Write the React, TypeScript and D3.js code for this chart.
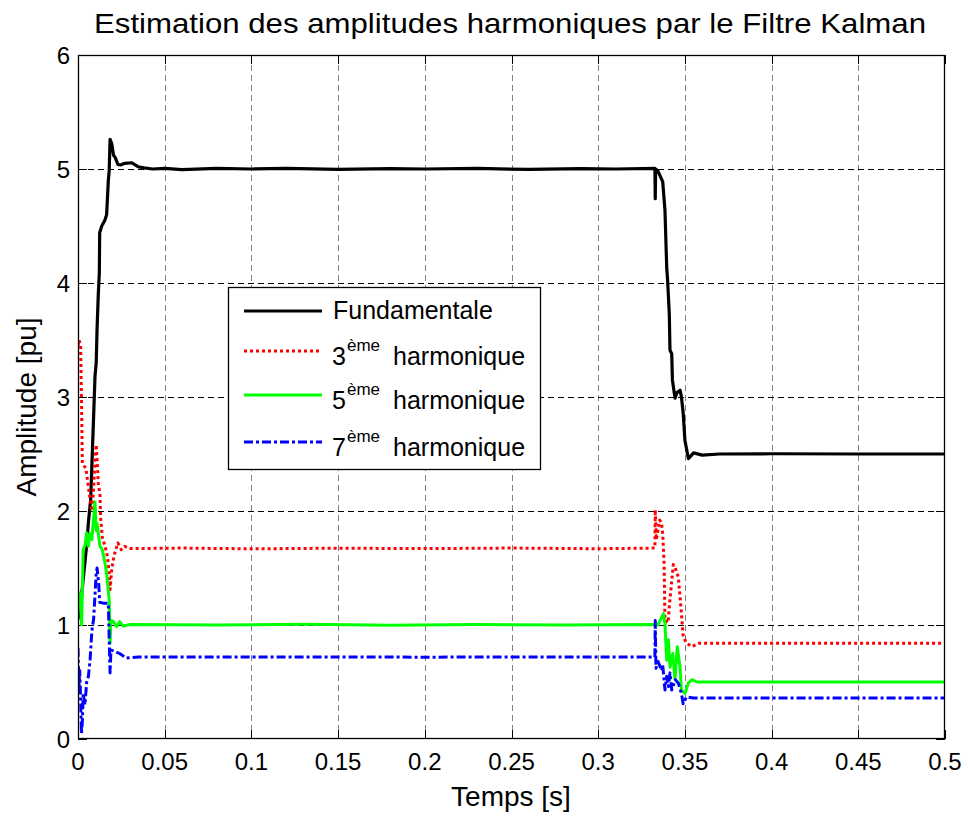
import React from "react";
import * as d3 from "d3";

type P = [number, number];

const xTicks = [0, 0.05, 0.1, 0.15, 0.2, 0.25, 0.3, 0.35, 0.4, 0.45, 0.5];
const xTickLabels = ["0", "0.05", "0.1", "0.15", "0.2", "0.25", "0.3", "0.35", "0.4", "0.45", "0.5"];
const yTicks = [0, 1, 2, 3, 4, 5, 6];
const yTickLabels = ["0", "1", "2", "3", "4", "5", "6"];

const fundamental: P[] = [
  [0, 1.05], [0.001, 1.2], [0.002, 1.25], [0.003, 1.4], [0.004, 1.55], [0.005, 1.7], [0.006, 1.9],
  [0.0073, 2.1], [0.0088, 2.74], [0.0098, 3.18], [0.0105, 3.3], [0.011, 3.6], [0.0117, 3.9],
  [0.0123, 4.09], [0.0125, 4.44], [0.0137, 4.5], [0.0155, 4.55], [0.0165, 4.6], [0.0175, 4.9],
  [0.018, 4.99], [0.0185, 5.26], [0.0195, 5.22], [0.0205, 5.12], [0.0215, 5.1], [0.023, 5.04],
  [0.0245, 5.035], [0.027, 5.05], [0.031, 5.055], [0.0346, 5.02], [0.038, 5.01], [0.043, 5.0],
  [0.05, 5.005], [0.06, 4.995], [0.08, 5.005], [0.1, 5.0], [0.12, 5.006], [0.15, 4.997],
  [0.18, 5.004], [0.2, 5.0], [0.23, 5.005], [0.26, 4.996], [0.29, 5.004], [0.31, 5.0],
  [0.3327, 5.005], [0.3329, 4.74], [0.3331, 5.0], [0.3345, 4.98], [0.3372, 4.89], [0.3385, 4.64],
  [0.3395, 4.14], [0.34, 4.03], [0.341, 3.73], [0.3414, 3.41], [0.3424, 3.38], [0.3428, 3.15],
  [0.3443, 2.99], [0.3455, 3.04], [0.3472, 3.06], [0.348, 3.0], [0.349, 2.86], [0.35, 2.62],
  [0.352, 2.46], [0.355, 2.51], [0.36, 2.49], [0.37, 2.5], [0.4, 2.502], [0.45, 2.5], [0.5, 2.5],
];

const third: P[] = [
  [0, 3.45], [0.0006, 3.5], [0.0015, 3.45], [0.002, 3.0], [0.0025, 2.42], [0.0046, 2.37],
  [0.006, 2.21], [0.007, 2.1], [0.008, 2.0], [0.009, 2.2], [0.0098, 2.45], [0.0105, 2.58],
  [0.0112, 2.4], [0.0117, 2.24], [0.0127, 2.14], [0.013, 1.95], [0.014, 1.77], [0.0156, 1.69],
  [0.017, 1.6], [0.018, 1.45], [0.0185, 1.31], [0.0195, 1.5], [0.021, 1.62], [0.023, 1.72],
  [0.025, 1.66], [0.027, 1.69], [0.03, 1.67], [0.06, 1.675], [0.1, 1.668], [0.15, 1.674],
  [0.2, 1.67], [0.25, 1.675], [0.3, 1.669], [0.3327, 1.675], [0.3329, 2.01], [0.3335, 1.75],
  [0.3355, 1.92], [0.3366, 1.89], [0.3372, 1.8], [0.338, 1.54], [0.3385, 1.04], [0.3403, 1.02],
  [0.341, 1.16], [0.3433, 1.53], [0.3445, 1.5], [0.3462, 1.42], [0.347, 1.28], [0.348, 1.1],
  [0.349, 0.9], [0.351, 0.84], [0.354, 0.81], [0.358, 0.84], [0.4, 0.84], [0.5, 0.84],
];

const fifth: P[] = [
  [0, 1.16], [0.0009, 1.28], [0.0021, 1.0], [0.003, 1.66], [0.004, 1.7], [0.005, 1.81],
  [0.006, 1.69], [0.0069, 1.8], [0.008, 1.75], [0.0098, 2.08], [0.0105, 1.83], [0.011, 1.89],
  [0.0127, 1.69], [0.014, 1.66], [0.0156, 1.54], [0.0165, 1.45], [0.018, 1.22], [0.0185, 0.84],
  [0.019, 1.04], [0.0205, 1.03], [0.0223, 0.985], [0.024, 1.03], [0.026, 0.99], [0.03, 1.005],
  [0.08, 1.0], [0.13, 1.006], [0.18, 0.998], [0.23, 1.004], [0.28, 0.999], [0.3327, 1.005],
  [0.3345, 1.0], [0.3376, 1.1], [0.3385, 1.01], [0.3395, 0.69], [0.3405, 0.87], [0.3414, 0.63],
  [0.343, 0.75], [0.3443, 0.52], [0.3456, 0.81], [0.3472, 0.63], [0.348, 0.43], [0.35, 0.4],
  [0.352, 0.49], [0.354, 0.52], [0.357, 0.5], [0.4, 0.5], [0.5, 0.5],
];

const seventh: P[] = [
  [0, 0.8], [0.0005, 0.45], [0.001, 0.6], [0.0015, 0.35], [0.002, 0.05], [0.0025, 0.15],
  [0.003, 0.4], [0.004, 0.3], [0.005, 0.5], [0.006, 0.55], [0.007, 0.7], [0.008, 0.95],
  [0.009, 1.05], [0.0105, 1.45], [0.011, 1.5], [0.012, 1.35], [0.0125, 1.2], [0.015, 1.19],
  [0.0175, 1.19], [0.018, 0.87], [0.0185, 0.58], [0.019, 0.78], [0.021, 0.77], [0.024, 0.75],
  [0.028, 0.71], [0.035, 0.72], [0.1, 0.72], [0.2, 0.718], [0.3, 0.72], [0.3327, 0.72],
  [0.3329, 1.04], [0.3333, 0.62], [0.3345, 0.68], [0.3366, 0.6], [0.3372, 0.65], [0.3385, 0.43],
  [0.3395, 0.55], [0.3405, 0.46], [0.3414, 0.58], [0.3424, 0.43], [0.3445, 0.52], [0.3462, 0.49],
  [0.348, 0.4], [0.349, 0.31], [0.351, 0.37], [0.355, 0.36], [0.4, 0.36], [0.5, 0.36],
];

const seriesNames = ["Fundamentale", "3", "5", "7"];

const W = 968, H = 818;
const L = 78, R = 945, T = 55, B = 739;
const FONT = "'Liberation Sans', Arial, Helvetica, sans-serif";

export default function App() {
  const x = d3.scaleLinear().domain([0, 0.5]).range([L, R]);
  const y = d3.scaleLinear().domain([0, 6]).range([B, T]);
  const line = d3.line<P>().x((d) => x(d[0])).y((d) => y(d[1]));

  const series = [
    { data: fundamental, color: "#000000", dash: "none", width: 3.2 },
    { data: third, color: "#ff0000", dash: "3,3", width: 3 },
    { data: fifth, color: "#00ff00", dash: "none", width: 3 },
    { data: seventh, color: "#0000ff", dash: "9,3,3,3", width: 3 },
  ];

  const legendRows = [
    { lineY: 311, color: "#000000", dash: "none" },
    { lineY: 351, color: "#ff0000", dash: "3,3" },
    { lineY: 395, color: "#00ff00", dash: "none" },
    { lineY: 442, color: "#0000ff", dash: "9,3,3,3" },
  ];

  return (
    <svg width={W} height={H} style={{ position: "absolute", left: 0, top: 0, background: "#fff" }} fontFamily={FONT}>
      <rect x={0} y={0} width={W} height={H} fill="#fff" />
      <defs>
        <clipPath id="plotclip">
          <rect x={L} y={T} width={R - L} height={B - T} />
        </clipPath>
      </defs>
      {xTicks.slice(1, -1).map((t) => (
        <line key={"gx" + t} x1={Math.round(x(t)) + 0.5} x2={Math.round(x(t)) + 0.5} y1={T} y2={B}
          stroke="#808080" strokeWidth={1} strokeDasharray="6,4" />
      ))}
      {yTicks.slice(1, -1).map((t) => (
        <line key={"gy" + t} y1={Math.round(y(t)) + 0.5} y2={Math.round(y(t)) + 0.5} x1={L} x2={R}
          stroke="#000" strokeWidth={1} strokeDasharray="6,4" />
      ))}
      {xTicks.map((t) => (
        <g key={"tx" + t}>
          <line x1={Math.round(x(t)) + 0.5} x2={Math.round(x(t)) + 0.5} y1={B} y2={B - 9} stroke="#000" />
          <line x1={Math.round(x(t)) + 0.5} x2={Math.round(x(t)) + 0.5} y1={T} y2={T + 9} stroke="#000" />
        </g>
      ))}
      {yTicks.map((t) => (
        <g key={"ty" + t}>
          <line y1={Math.round(y(t)) + 0.5} y2={Math.round(y(t)) + 0.5} x1={L} x2={L + 9} stroke="#000" />
          <line y1={Math.round(y(t)) + 0.5} y2={Math.round(y(t)) + 0.5} x1={R} x2={R - 9} stroke="#000" />
        </g>
      ))}
      <g clipPath="url(#plotclip)">
        {series.map((s, i) => (
          <path key={i} d={line(s.data) || ""} fill="none" stroke={s.color} strokeWidth={s.width}
            strokeDasharray={s.dash} strokeLinejoin="round" />
        ))}
      </g>
      <rect x={L + 0.5} y={T + 0.5} width={R - L - 1} height={B - T - 1} fill="none" stroke="#000" strokeWidth={1.3} />
      {xTicks.map((t, i) => (
        <text key={"lx" + t} x={x(t)} y={770} textAnchor="middle" fontSize={24}>{xTickLabels[i]}</text>
      ))}
      {yTicks.map((t, i) => (
        <text key={"ly" + t} x={70} y={y(t) + 8.5} textAnchor="end" fontSize={24}>{yTickLabels[i]}</text>
      ))}
      <text x={94} y={33} fontSize={28} textLength={832} lengthAdjust="spacingAndGlyphs">
        Estimation des amplitudes harmoniques par le Filtre Kalman
      </text>
      <text x={511} y={806} textAnchor="middle" fontSize={28}>Temps [s]</text>
      <text transform={`translate(36, ${407}) rotate(-90)`} textAnchor="middle" fontSize={28}>Amplitude [pu]</text>
      <rect x={228.5} y={287.5} width={312} height={182} fill="#fff" stroke="#000" strokeWidth={1.3} />
      {legendRows.map((r, i) => (
        <g key={"lg" + i}>
          <line x1={244} x2={322} y1={r.lineY} y2={r.lineY} stroke={r.color} strokeWidth={3}
            strokeDasharray={r.dash} />
          {i === 0 ? (
            <text x={333} y={r.lineY + 7.5} fontSize={25}>{seriesNames[0]}</text>
          ) : (
            <g>
              <text x={332} y={r.lineY + 13.5} fontSize={25}>{seriesNames[i]}</text>
              <text x={347} y={r.lineY - 0.5} fontSize={17}>ème</text>
              <text x={393} y={r.lineY + 13.5} fontSize={25}>harmonique</text>
            </g>
          )}
        </g>
      ))}
    </svg>
  );
}
